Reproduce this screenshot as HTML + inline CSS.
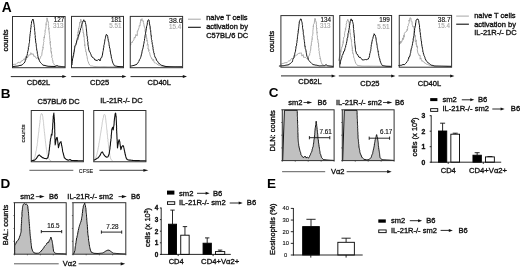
<!DOCTYPE html>
<html><head><meta charset="utf-8"><title>Figure</title>
<style>
html,body{margin:0;padding:0;background:#fff;}
body{width:520px;height:267px;overflow:hidden;}
svg{display:block;font-family:"Liberation Sans",sans-serif;filter:blur(0.35px);}
text{stroke-width:0.34px;}
</style></head><body>
<svg width="520" height="267" viewBox="0 0 520 267">
<rect x="0" y="0" width="520" height="267" fill="#fff"/>
<text x="1.7" y="11.6" font-size="13.8" text-anchor="start" font-weight="bold" fill="#000" stroke="#000" style="stroke-width:0">A</text>
<polyline points="13.00,64.50 13.99,64.39 14.94,64.23 16.07,64.26 16.91,63.41 17.95,62.53 19.14,62.18 19.86,63.13 20.70,62.36 21.24,60.97 21.98,60.82 23.08,60.37 24.14,58.72 24.94,59.94 25.07,58.43 25.79,56.36 27.39,58.01 28.48,55.69 29.03,54.57 29.75,55.05 30.70,54.54 30.84,52.71 31.73,54.40 33.18,53.79 33.52,55.01 33.80,56.32 34.93,56.15 35.53,57.13 36.27,58.43 38.18,57.73 38.96,59.78 39.86,58.80 40.57,57.48 40.78,56.26 41.31,55.90 41.85,55.45 41.82,54.86 41.96,52.98 42.29,51.31 42.23,51.17 42.47,49.70 42.60,49.97 42.93,49.74 43.01,47.41 43.13,48.02 42.98,46.39 43.32,45.21 43.42,44.08 43.60,43.58 43.50,42.44 44.08,41.40 43.66,40.42 44.06,38.55 43.92,37.74 44.24,36.95 44.38,38.06 44.46,35.90 44.58,35.08 44.96,34.67 44.80,33.69 45.20,32.65 44.93,30.59 45.30,30.74 45.36,29.87 45.41,29.37 45.80,28.40 45.86,26.62 45.99,26.35 46.12,23.88 46.27,24.61 46.12,24.07 46.27,22.31 46.96,21.10 46.87,19.13 47.02,17.83 47.30,19.19 48.09,22.08 48.34,21.92 48.30,23.38 48.47,23.69 48.33,24.93 48.62,25.42 48.47,26.96 48.94,27.85 48.89,29.39 48.85,28.48 48.72,29.45 49.04,30.77 49.23,32.86 49.35,32.70 49.33,34.15 49.38,34.52 49.63,35.64 49.57,36.89 49.69,37.81 49.93,39.24 49.85,40.43 50.27,41.34 50.23,42.73 50.40,41.53 50.02,44.24 50.30,44.00 50.56,45.89 50.42,45.77 50.47,46.44 51.05,48.80 51.04,48.42 50.82,51.04 51.10,51.07 51.49,52.91 51.24,51.61 51.59,54.44 51.86,54.60 52.08,56.06 51.69,55.97 51.83,57.71 52.43,58.33 52.42,58.86 52.33,59.35 52.96,61.08 52.93,62.53 53.40,63.21 53.68,63.46 53.97,64.55 55.04,65.08 56.01,66.05 56.97,66.14 57.91,66.11 58.83,66.33 59.78,66.36 60.72,66.40 61.68,66.50 62.61,66.60 63.56,66.71 64.50,66.80" fill="none" stroke="#a6a6a6" stroke-width="0.95" stroke-linejoin="round" stroke-linecap="round"/>
<polyline points="13.00,66.50 14.00,66.43 15.01,66.32 16.00,66.17 17.01,66.15 17.99,66.01 19.02,65.73 19.99,65.42 21.00,65.36 21.99,64.92 22.73,64.41 23.52,63.46 24.25,62.94 25.01,61.69 25.20,60.74 25.62,59.98 25.91,59.19 26.03,58.17 26.49,57.14 26.63,57.29 26.85,55.69 27.11,55.26 27.38,53.73 27.48,53.37 27.71,51.92 27.81,51.48 28.13,50.10 28.22,50.02 28.36,49.26 28.38,47.56 28.67,46.96 28.98,45.84 28.88,45.41 28.96,44.53 29.16,43.32 29.46,42.49 29.51,41.32 29.59,39.82 29.63,38.97 29.62,38.30 29.74,37.87 29.84,36.35 30.01,35.91 30.04,34.24 30.29,33.52 30.25,32.34 30.51,32.20 30.54,30.65 30.63,29.73 30.72,29.14 30.82,28.00 31.02,27.22 31.14,27.01 31.05,25.57 31.34,24.35 31.50,23.70 31.44,23.40 31.54,21.84 32.08,20.71 32.91,19.03 33.27,20.05 33.57,20.98 33.68,21.96 33.81,23.02 34.04,24.35 34.20,24.80 34.31,25.75 34.17,26.87 34.46,27.29 34.59,27.98 34.61,28.83 34.60,30.45 34.75,31.35 34.75,31.99 34.95,32.54 34.96,34.46 35.07,35.36 35.29,35.57 35.18,37.31 35.35,38.18 35.44,39.00 35.55,40.19 35.57,40.18 35.68,41.03 35.76,42.78 35.92,42.87 36.18,43.84 36.25,44.61 36.19,45.95 36.41,46.74 36.47,47.70 36.66,48.77 36.74,50.04 37.01,50.83 37.18,51.36 37.25,52.00 37.29,53.22 37.66,54.49 37.66,55.18 38.00,56.59 38.02,57.15 38.46,58.17 38.81,59.22 39.26,60.26 39.61,61.13 39.95,61.90 40.72,62.75 41.46,63.49 42.21,64.41 43.00,65.11 44.02,65.36 44.99,65.45 46.01,65.86 46.99,65.99 48.00,66.26 48.99,66.29 50.00,66.32 51.00,66.40 52.00,66.43 53.00,66.42 54.00,66.47 55.00,66.53 56.01,66.07 56.98,65.60 58.50,66.27 59.50,66.36 60.50,66.44 61.50,66.56 62.50,66.62 63.50,66.73 64.50,66.80" fill="none" stroke="#111111" stroke-width="1.0" stroke-linejoin="round" stroke-linecap="round"/>
<rect x="12.5" y="16.5" width="52.60" height="51.20" fill="none" stroke="#303030" stroke-width="1.0"/>
<polyline points="72.00,61.00 72.28,59.91 72.48,59.96 72.80,58.02 73.01,56.27 73.38,56.30 73.32,54.07 73.82,53.06 73.59,53.44 74.34,53.11 74.35,51.35 74.22,49.21 74.50,49.07 74.85,47.29 75.23,45.92 75.70,45.86 75.83,45.04 76.09,44.00 76.04,43.01 76.62,43.37 76.62,42.12 76.51,40.02 76.59,39.07 76.94,39.28 77.10,38.57 77.53,37.94 77.33,34.85 77.65,36.05 77.77,35.33 78.07,32.35 78.03,33.09 78.24,30.61 78.65,31.73 78.52,28.90 78.58,27.97 78.81,28.68 79.14,27.14 79.47,25.29 79.58,24.15 79.62,23.12 79.70,22.34 80.17,23.08 80.62,20.45 80.74,19.13 81.38,21.72 82.08,21.08 81.81,22.34 82.00,24.63 82.00,24.53 82.45,25.06 82.61,26.41 82.67,27.70 82.84,30.06 83.21,30.17 82.92,30.19 83.41,32.79 83.17,32.19 83.71,34.24 83.84,33.92 83.75,36.42 83.58,36.28 84.19,36.32 84.16,37.71 84.34,38.67 84.15,40.38 84.51,40.33 84.34,41.01 84.83,43.05 84.62,44.10 84.70,45.71 84.87,44.55 84.87,46.46 85.17,46.76 85.16,48.58 85.72,49.02 85.72,51.36 85.80,51.61 85.61,51.26 86.24,51.89 86.48,54.46 86.51,53.90 86.78,55.96 87.14,56.58 87.10,57.02 87.51,59.54 87.60,60.47 88.05,61.50 88.32,61.79 88.73,63.45 89.06,63.93 89.76,65.11 90.49,65.84 91.41,65.96 92.31,65.98 93.22,66.32 94.10,66.40 95.00,66.53 95.91,66.50 96.81,66.47 97.71,66.48 98.61,66.54 99.52,66.57 100.43,66.57 101.31,66.54 102.23,66.56 103.12,66.56 104.04,66.63 104.94,66.60 105.84,66.60 106.74,66.60 107.65,66.66 108.55,66.67 109.45,66.66 110.35,66.64 111.26,66.70 112.17,66.70 113.06,66.68 113.96,66.70 114.87,66.70 115.77,66.73 116.68,66.72 117.58,66.76 118.48,66.73 119.38,66.78 120.29,66.78 121.20,66.77 122.09,66.78 123.00,66.80" fill="none" stroke="#a6a6a6" stroke-width="0.95" stroke-linejoin="round" stroke-linecap="round"/>
<polyline points="72.00,64.60 72.12,63.52 72.20,62.84 72.36,61.62 72.40,61.20 72.43,60.01 72.66,58.41 72.77,58.10 73.02,57.35 73.16,55.68 73.57,55.60 73.68,54.55 73.75,52.64 73.83,52.30 74.06,51.94 74.35,50.09 74.53,49.15 74.57,48.64 74.70,47.61 74.71,46.52 74.92,46.44 75.29,45.34 75.87,44.56 76.20,43.31 76.57,42.10 76.87,40.55 77.16,40.39 77.74,39.51 77.96,37.89 78.27,36.94 78.57,36.59 78.78,34.43 79.35,34.26 79.50,33.00 79.87,32.06 80.13,30.67 80.44,30.07 80.60,28.62 81.13,27.82 81.28,26.82 81.38,25.77 81.84,24.48 81.96,24.33 82.30,23.22 82.64,22.48 83.08,20.99 83.39,20.75 83.80,19.76 83.99,20.05 84.23,21.55 84.69,21.48 85.29,21.33 85.31,22.40 85.52,22.71 85.62,23.90 85.81,24.48 86.15,26.48 86.09,27.20 86.34,27.50 86.37,28.73 86.31,29.03 86.59,30.91 86.63,31.86 86.72,32.21 86.74,33.62 86.83,34.14 86.85,35.32 87.24,36.12 87.23,36.23 87.41,37.87 87.33,38.70 87.64,39.39 87.49,40.89 87.58,40.81 87.78,41.63 88.01,42.67 87.89,44.19 88.09,45.05 88.20,45.99 88.33,46.60 88.63,47.85 88.58,49.06 88.97,50.25 89.09,51.33 89.49,51.41 90.08,52.48 90.56,53.61 91.06,54.70 91.36,55.78 91.94,56.87 93.44,57.98 94.26,58.50 94.89,60.00 96.00,60.10 97.11,60.73 97.80,59.80 98.52,59.53 99.33,59.55 99.97,60.96 100.64,59.30 100.87,58.03 101.59,57.24 101.98,57.31 102.06,56.15 102.38,55.17 102.57,54.02 102.72,52.88 102.98,51.46 103.20,50.70 103.35,50.38 103.35,48.95 103.57,47.86 103.85,47.16 103.85,45.50 104.07,44.99 104.25,44.47 104.41,43.15 104.61,42.20 104.72,41.24 104.96,39.69 105.03,38.86 105.42,38.47 105.41,37.75 105.78,36.02 106.01,35.19 106.27,34.46 107.08,34.96 107.49,36.29 107.84,36.53 107.81,38.24 108.14,38.80 108.23,40.22 108.45,41.54 108.75,41.61 108.85,42.38 108.98,43.34 109.06,44.33 109.24,46.03 109.44,46.32 109.45,47.04 109.63,48.06 109.99,48.73 110.09,49.44 110.23,51.41 110.33,51.20 110.53,52.11 110.59,53.80 110.85,53.85 110.94,54.85 111.29,56.17 111.22,56.96 111.60,58.35 111.62,58.95 111.97,59.50 112.19,60.80 112.57,61.90 112.81,62.86 113.01,63.25 113.54,64.10 114.02,65.10 114.48,65.75 115.67,66.07 116.83,66.28 118.00,66.52 119.00,66.55 120.00,66.61 121.00,66.69 122.00,66.73 123.00,66.80" fill="none" stroke="#111111" stroke-width="1.0" stroke-linejoin="round" stroke-linecap="round"/>
<rect x="71.5" y="16.4" width="52.00" height="51.30" fill="none" stroke="#303030" stroke-width="1.0"/>
<polyline points="130.70,45.00 131.03,43.91 130.80,43.57 131.49,42.34 132.16,42.23 132.29,42.65 132.64,41.20 133.25,40.79 133.88,39.85 134.04,38.50 134.16,37.55 134.92,37.45 134.92,38.16 136.02,34.51 135.65,35.03 137.38,35.66 137.27,31.68 137.51,30.76 137.71,31.41 137.95,30.67 138.94,27.88 138.93,27.66 139.23,27.33 139.10,25.61 140.15,25.77 140.14,25.62 140.15,22.51 140.68,22.65 140.57,19.69 141.16,19.69 141.50,20.35 142.01,18.60 141.98,20.86 142.14,21.06 143.23,20.62 143.24,20.65 143.57,21.91 143.41,22.43 143.92,24.47 143.97,24.48 144.06,26.01 144.89,27.92 145.14,28.94 145.36,28.87 144.94,30.54 145.75,32.84 145.40,31.32 145.67,34.92 145.58,34.12 146.27,34.44 146.76,38.64 146.10,38.01 146.91,38.40 146.95,41.13 147.02,40.08 147.27,41.92 147.71,42.19 147.21,45.34 147.98,44.29 148.21,45.25 148.17,47.05 147.96,48.70 148.19,48.27 148.76,50.62 149.13,49.75 148.78,51.73 149.78,52.78 149.86,54.20 150.52,56.43 150.43,56.89 151.34,57.30 151.57,58.98 151.89,58.49 152.71,60.54 153.47,59.39 154.17,62.43 154.87,62.97 155.46,62.89 155.85,63.33 156.94,63.87 158.05,65.02 159.02,65.10 160.00,65.32 160.99,66.08 161.99,66.04 163.01,66.20 163.98,66.30 165.01,66.47 165.95,66.56 166.88,66.60 167.83,66.48 168.77,66.56 169.72,66.61 170.66,66.57 171.60,66.67 172.55,66.62 173.50,66.62 174.45,66.64 175.39,66.68 176.33,66.67 177.28,66.72 178.22,66.72 179.17,66.77 180.11,66.75 181.05,66.80 182.00,66.80" fill="none" stroke="#a6a6a6" stroke-width="0.95" stroke-linejoin="round" stroke-linecap="round"/>
<polyline points="130.70,66.00 131.79,65.91 132.92,65.58 133.98,65.43 134.99,65.04 135.98,64.64 136.98,64.20 137.56,63.31 138.07,62.62 138.41,61.91 139.02,61.34 139.32,59.80 139.82,59.41 140.28,58.53 140.62,57.55 141.03,56.24 141.36,54.82 141.53,54.00 141.71,53.88 141.99,52.02 142.02,51.76 142.34,50.13 142.68,49.22 142.78,48.90 143.05,47.89 143.11,47.58 143.36,46.02 143.53,45.01 143.65,44.39 143.84,43.62 144.15,42.01 144.15,41.41 144.46,40.55 144.50,40.29 144.55,38.71 144.73,38.39 144.95,37.06 145.09,35.88 145.13,34.81 145.50,34.32 145.46,33.54 145.55,32.69 145.92,31.44 145.94,31.14 146.09,30.14 146.25,28.85 146.44,28.50 146.57,26.97 146.67,26.17 147.03,25.34 147.28,24.13 147.37,22.42 147.54,22.16 147.86,20.61 148.43,19.72 149.04,20.10 149.19,21.32 149.36,22.10 149.47,23.83 149.58,24.06 149.75,25.24 150.04,26.04 150.20,27.68 150.20,27.56 150.23,29.47 150.50,29.64 150.69,30.78 150.72,32.11 150.77,32.47 150.83,33.41 150.97,34.81 151.24,36.01 151.31,35.93 151.29,37.51 151.40,38.29 151.51,39.55 151.91,40.31 151.80,41.49 151.89,42.04 152.26,42.71 152.15,44.18 152.49,44.56 152.69,45.21 152.77,46.97 153.00,47.23 152.96,48.32 153.10,48.93 153.35,50.51 153.60,51.24 153.66,52.57 154.11,52.89 154.22,54.31 154.41,55.19 154.62,55.59 154.92,56.86 155.64,58.02 156.02,58.59 156.53,60.38 157.06,61.02 157.75,61.47 158.38,62.79 158.95,63.67 159.72,63.81 160.54,64.50 161.24,65.12 162.01,65.53 163.02,65.72 164.01,66.06 165.01,66.29 166.00,66.51 166.94,66.51 167.89,66.51 168.82,66.54 169.76,66.56 170.70,66.59 171.65,66.59 172.59,66.62 173.53,66.65 174.47,66.66 175.41,66.69 176.36,66.68 177.29,66.71 178.23,66.72 179.17,66.74 180.12,66.76 181.06,66.79 182.00,66.80" fill="none" stroke="#111111" stroke-width="1.0" stroke-linejoin="round" stroke-linecap="round"/>
<rect x="130.25" y="16.4" width="52.35" height="51.30" fill="none" stroke="#303030" stroke-width="1.0"/>
<polyline points="280.90,64.05 281.86,63.91 282.93,63.36 283.85,63.32 284.94,62.70 285.89,62.65 287.05,62.66 287.77,61.73 288.69,60.90 289.40,60.88 289.97,60.91 290.69,59.62 292.06,58.05 292.72,58.78 293.33,57.87 294.13,57.37 295.40,55.66 296.34,55.11 296.76,55.42 297.75,53.78 298.56,53.47 299.04,52.84 299.91,53.69 300.98,52.63 301.61,54.23 301.91,56.08 303.15,54.56 303.64,57.47 304.65,57.32 305.76,57.48 307.00,58.75 308.08,58.97 308.35,57.58 308.74,55.92 309.36,55.25 309.64,55.21 309.66,53.80 309.83,53.17 310.15,52.68 310.16,51.55 310.53,50.26 310.58,50.38 310.84,48.03 310.80,46.67 311.05,45.55 311.07,45.14 311.32,45.44 311.33,42.79 311.66,41.80 311.79,42.00 311.89,40.55 312.03,39.33 311.69,38.99 312.25,39.27 312.21,36.69 312.08,36.42 312.67,35.38 312.66,34.35 312.79,34.30 312.98,33.04 312.85,31.49 312.75,30.81 313.24,29.99 313.02,29.26 313.31,27.57 313.27,26.34 313.33,26.87 313.47,24.51 313.51,24.51 313.94,23.98 314.30,23.11 314.39,21.98 314.68,19.98 314.70,18.58 315.16,18.81 315.40,18.58 315.61,20.71 315.89,21.89 316.14,21.71 316.40,22.93 316.24,24.15 316.64,26.02 316.31,26.84 316.39,26.63 316.69,28.65 317.04,28.08 316.62,28.97 316.94,31.80 317.10,32.63 317.13,31.91 316.95,34.28 317.23,35.25 317.30,35.58 317.49,37.15 317.35,37.31 317.51,38.87 317.52,39.52 317.97,39.32 318.06,40.65 318.02,42.52 318.14,43.09 318.50,42.90 318.61,44.95 318.57,46.14 318.67,45.86 318.57,47.53 318.62,47.73 318.99,48.56 318.82,50.29 319.39,51.52 319.07,53.26 319.51,53.46 319.51,54.05 319.63,54.93 319.67,55.67 320.19,57.27 320.05,58.81 320.13,58.05 320.48,58.61 320.70,59.85 321.07,61.87 321.38,62.40 321.67,63.25 321.85,64.12 322.95,64.61 323.90,65.46 324.86,65.72 325.77,65.77 326.73,65.74 327.67,65.85 328.63,65.97 329.57,66.11 330.52,66.19 331.46,66.25 332.40,66.35" fill="none" stroke="#a6a6a6" stroke-width="0.95" stroke-linejoin="round" stroke-linecap="round"/>
<polyline points="279.32,66.05 280.22,65.96 281.11,65.85 282.02,65.84 282.91,65.68 283.81,65.67 284.73,65.49 285.80,65.24 286.87,65.07 287.94,64.91 289.01,64.58 289.81,63.98 290.70,63.06 291.40,62.53 292.34,61.82 292.64,60.54 292.81,59.57 293.15,58.61 293.50,58.51 293.94,57.85 294.11,56.06 294.46,55.03 294.64,54.76 294.83,53.22 295.08,52.33 295.04,51.84 295.47,51.54 295.64,49.85 295.71,48.88 295.96,48.30 295.92,46.78 296.20,45.96 296.48,45.82 296.67,44.08 296.57,43.25 296.95,42.67 296.93,42.25 296.97,41.19 297.31,39.50 297.19,39.18 297.49,37.85 297.43,36.59 297.56,36.56 297.73,35.17 297.81,34.31 298.07,33.11 298.23,32.79 298.11,31.00 298.27,31.06 298.37,30.08 298.59,28.70 298.66,27.83 298.86,26.45 298.79,26.24 299.01,25.16 298.94,24.80 299.21,23.88 299.26,21.91 299.29,21.82 300.07,20.16 300.56,18.94 301.25,19.17 301.42,20.25 301.78,21.63 302.11,22.75 302.18,23.20 302.31,24.30 302.23,24.85 302.61,25.68 302.53,27.67 302.63,28.29 302.79,29.05 303.06,29.93 303.18,31.23 303.15,32.10 303.37,32.27 303.28,33.72 303.37,34.35 303.76,35.75 303.79,35.76 303.99,37.76 303.88,38.49 304.07,39.22 304.20,40.18 304.39,40.67 304.37,41.49 304.68,43.03 304.60,43.36 304.73,44.66 304.91,46.22 305.09,46.03 305.19,47.60 305.27,48.54 305.61,48.94 305.75,49.69 306.02,50.84 306.16,52.08 306.31,52.71 306.49,53.81 306.68,54.88 306.84,55.96 306.91,56.22 307.30,56.87 307.92,57.72 308.21,59.21 308.61,60.21 309.12,60.63 309.47,61.33 310.25,62.02 310.94,62.57 311.70,63.45 312.40,64.11 313.12,64.57 314.18,64.73 315.17,65.07 316.20,65.13 317.20,65.36 318.23,65.59 319.24,65.87 320.27,65.85 321.31,65.80 322.34,65.79 323.37,65.75 324.39,65.78 325.24,65.15 326.08,64.51 326.80,65.20 327.51,65.71 328.39,65.85 329.29,65.96 330.20,66.05 331.10,66.15 332.00,66.25 332.90,66.35" fill="none" stroke="#111111" stroke-width="1.0" stroke-linejoin="round" stroke-linecap="round"/>
<rect x="280.9" y="15.6" width="52.40" height="51.60" fill="none" stroke="#303030" stroke-width="1.0"/>
<polyline points="338.80,60.55 338.86,58.60 339.40,58.31 339.33,56.72 339.95,55.93 340.15,54.74 340.02,54.92 340.41,53.63 340.94,52.35 340.60,50.61 341.03,51.56 341.20,48.86 341.81,48.24 341.64,46.88 342.08,46.75 342.49,46.59 342.38,44.22 343.08,44.32 343.10,41.58 343.22,42.62 343.47,40.24 343.29,40.52 343.47,39.43 343.71,37.16 343.91,36.95 344.33,36.78 344.57,36.61 344.63,35.80 344.45,33.33 344.83,33.17 344.73,32.40 345.38,30.40 345.41,30.45 345.41,28.40 345.72,29.38 345.63,28.68 346.14,26.45 346.30,25.42 346.08,24.69 346.74,22.63 346.46,21.67 346.92,21.17 347.19,21.26 347.77,19.35 348.03,19.94 348.68,21.81 348.53,21.49 349.03,22.72 349.32,24.99 349.06,26.17 349.63,27.16 349.22,27.20 349.52,28.26 349.54,28.81 350.13,29.61 350.10,30.36 349.97,31.64 350.15,33.98 350.35,33.44 350.51,35.54 350.55,36.84 350.85,36.99 350.96,37.77 350.74,38.70 351.23,38.84 351.44,41.19 351.35,41.99 351.63,41.70 351.51,42.51 351.61,43.47 351.76,44.77 351.95,46.62 352.21,46.46 352.36,48.51 352.37,47.81 352.29,50.71 352.73,50.03 352.62,51.32 352.73,53.28 352.85,52.86 353.34,54.19 353.60,55.25 353.51,55.55 353.86,57.84 354.33,58.55 354.14,59.11 354.67,59.77 355.04,61.27 355.29,62.01 355.85,63.45 356.61,64.34 357.29,65.37 358.18,65.56 359.12,65.65 359.99,65.78 360.90,65.86 361.80,66.02 362.71,66.06 363.61,66.08 364.51,66.11 365.42,66.08 366.31,66.10 367.22,66.10 368.13,66.10 369.03,66.10 369.93,66.15 370.84,66.18 371.73,66.13 372.65,66.17 373.54,66.16 374.44,66.18 375.35,66.19 376.25,66.20 377.16,66.20 378.06,66.22 378.96,66.23 379.87,66.26 380.77,66.26 381.67,66.25 382.57,66.28 383.48,66.28 384.38,66.29 385.29,66.30 386.19,66.31 387.09,66.32 387.99,66.33 388.90,66.34 389.80,66.35" fill="none" stroke="#a6a6a6" stroke-width="0.95" stroke-linejoin="round" stroke-linecap="round"/>
<polyline points="340.20,64.00 340.30,62.94 340.53,61.78 340.64,61.06 340.87,60.05 341.22,59.26 341.55,58.34 341.82,57.41 342.06,55.59 342.40,55.27 343.04,53.94 343.59,51.97 344.06,51.04 344.31,51.11 344.74,50.05 345.00,48.40 345.35,47.47 345.64,47.23 345.70,45.46 346.03,45.14 346.37,43.62 346.44,43.42 346.75,41.58 346.95,40.89 347.07,39.99 347.19,38.43 347.57,37.95 347.74,36.91 347.95,36.05 347.95,35.19 348.04,33.57 348.44,32.45 348.58,32.45 348.71,30.53 348.95,29.55 349.07,29.19 349.14,28.13 349.47,27.42 349.48,25.69 349.71,25.28 349.81,23.89 349.91,23.56 350.20,21.65 350.42,20.73 350.78,19.79 351.12,18.86 351.47,20.30 351.70,20.66 352.40,19.94 352.51,21.60 352.80,21.98 352.87,22.79 353.11,23.77 353.35,24.54 353.36,26.12 353.40,27.06 353.62,28.56 353.46,29.39 353.83,30.11 353.80,31.17 353.80,32.18 354.09,33.27 354.08,33.40 354.10,34.93 354.34,35.95 354.23,37.12 354.47,37.13 354.54,38.59 354.44,39.81 354.52,40.38 354.71,41.54 354.73,41.78 354.72,43.11 354.88,43.56 354.98,44.38 355.16,46.36 355.25,46.24 355.31,47.98 355.41,48.10 355.51,49.25 355.47,50.34 355.71,51.11 356.16,52.17 356.39,53.52 357.01,54.44 357.60,54.43 358.11,55.73 359.07,57.32 360.41,57.36 361.28,58.53 362.00,59.69 362.90,59.92 363.63,59.91 364.66,59.68 365.59,59.52 366.30,59.64 366.97,59.84 367.69,58.90 368.25,59.09 368.71,58.05 369.18,57.35 369.46,55.84 369.60,55.44 369.78,53.59 370.04,53.41 370.24,52.48 370.35,51.40 370.73,50.48 370.79,49.45 371.00,48.48 370.95,47.56 371.24,46.42 371.20,44.82 371.49,44.48 371.82,43.04 371.83,41.98 372.11,41.22 372.36,39.73 372.42,39.48 372.92,38.38 373.09,37.03 373.45,36.20 373.97,34.70 374.08,33.72 374.90,35.16 375.27,35.27 375.54,36.47 375.68,36.75 375.93,37.93 376.10,39.06 376.18,40.02 376.21,40.45 376.41,41.66 376.58,42.41 376.77,43.21 377.01,45.16 377.19,45.65 377.24,46.67 377.22,47.25 377.62,48.67 377.71,49.47 377.94,50.38 378.05,51.46 378.27,51.20 378.29,52.75 378.40,53.47 378.67,53.89 378.68,55.47 379.09,56.73 379.14,57.55 379.29,57.86 379.73,58.86 379.99,60.40 380.20,61.02 380.47,62.12 380.86,62.84 381.28,63.75 381.77,64.66 382.29,65.50 383.21,65.71 384.15,65.87 385.08,66.04 386.00,66.21 387.00,66.25 388.00,66.28 389.00,66.32 390.00,66.35 391.00,66.35" fill="none" stroke="#111111" stroke-width="1.0" stroke-linejoin="round" stroke-linecap="round"/>
<rect x="339.75" y="15.5" width="51.85" height="51.70" fill="none" stroke="#303030" stroke-width="1.0"/>
<polyline points="399.50,44.55 399.46,42.11 400.24,41.88 400.59,43.54 400.71,41.19 401.02,42.72 401.62,42.06 401.68,41.11 402.02,41.42 402.76,37.88 403.09,39.72 403.55,39.09 403.81,35.13 404.14,37.17 404.39,33.39 405.41,32.02 405.85,32.05 406.83,30.90 407.07,29.42 407.19,30.36 407.70,28.81 407.57,27.85 407.83,25.97 408.71,25.21 408.18,24.30 409.07,23.47 409.24,22.36 408.96,20.16 409.22,21.10 409.85,19.03 409.91,17.81 410.92,18.07 411.15,21.29 411.39,21.52 411.90,21.78 412.01,21.64 412.09,21.62 412.14,24.31 412.61,25.74 413.07,25.90 412.74,27.05 412.88,26.69 413.93,26.94 414.20,29.87 413.84,31.50 414.56,33.14 414.05,32.40 414.32,32.93 414.45,34.09 415.37,36.28 415.37,35.57 415.29,37.84 415.36,39.93 415.24,40.64 415.53,42.13 416.29,39.86 416.28,43.30 416.20,44.45 416.31,43.24 417.04,47.09 416.75,45.63 417.34,47.38 417.48,46.87 417.44,48.71 417.25,49.29 417.80,52.85 418.49,54.15 418.19,54.41 419.34,54.85 418.93,55.56 420.21,55.48 420.08,59.17 420.98,57.95 421.23,59.41 422.21,61.48 422.53,60.75 423.59,61.74 423.96,61.84 424.95,63.36 425.79,63.46 426.80,64.28 427.76,64.34 428.76,64.93 429.79,65.41 430.82,65.59 431.83,65.76 432.79,65.98 433.80,66.01 434.75,66.06 435.69,66.04 436.63,66.13 437.59,66.09 438.53,66.11 439.46,66.17 440.40,66.16 441.35,66.20 442.31,66.17 443.25,66.23 444.18,66.24 445.13,66.27 446.08,66.27 447.02,66.28 447.97,66.31 448.91,66.32 449.86,66.34 450.80,66.35" fill="none" stroke="#a6a6a6" stroke-width="0.95" stroke-linejoin="round" stroke-linecap="round"/>
<polyline points="398.80,65.55 399.78,65.44 400.79,65.25 401.81,65.19 402.97,64.47 404.27,64.73 405.05,64.06 405.77,63.35 406.31,62.88 406.81,61.87 407.21,61.53 407.84,60.82 408.11,59.39 408.55,59.08 408.88,57.06 409.43,56.97 409.87,55.92 410.16,54.70 410.26,53.63 410.50,53.28 410.71,52.43 410.77,51.35 411.07,49.89 411.28,48.82 411.51,47.96 411.76,47.71 411.88,46.48 412.26,45.44 412.33,44.98 412.54,43.49 412.60,42.56 412.84,42.64 413.02,41.20 413.22,40.63 413.16,38.97 413.40,38.16 413.77,37.12 413.74,37.00 413.89,35.83 414.02,35.23 414.08,33.54 414.20,32.99 414.51,32.11 414.42,30.97 414.63,30.78 414.61,28.79 414.90,27.90 414.96,27.81 415.06,26.03 415.28,26.15 415.54,25.12 415.67,22.96 415.78,22.77 415.98,21.27 416.08,20.08 416.59,19.64 416.73,19.30 418.00,19.05 418.56,20.55 418.84,20.81 418.81,22.13 419.03,23.25 419.14,24.22 419.19,24.23 419.48,25.20 419.57,27.17 419.45,27.43 419.82,29.06 419.80,29.05 419.99,29.96 419.92,31.72 420.16,32.29 420.37,32.96 420.29,34.07 420.56,35.14 420.55,35.65 420.77,37.53 420.84,37.78 420.87,38.33 421.10,39.51 421.10,40.30 421.34,41.04 421.57,42.12 421.47,43.78 421.80,43.94 421.79,44.81 422.07,46.57 422.29,46.92 422.26,48.22 422.48,48.27 422.64,49.56 422.85,50.82 422.93,52.13 423.25,52.43 423.47,53.98 423.78,54.18 423.98,55.46 424.43,56.25 424.91,57.48 425.17,58.61 425.89,60.06 426.39,60.96 426.90,61.64 427.59,62.21 428.25,63.00 429.10,63.50 429.82,63.97 430.54,64.54 431.32,65.14 432.18,65.31 433.04,65.51 433.93,65.84 434.80,66.05 435.74,66.05 436.69,66.09 437.63,66.09 438.56,66.11 439.51,66.14 440.44,66.15 441.39,66.18 442.33,66.19 443.27,66.21 444.21,66.23 445.15,66.24 446.09,66.26 447.03,66.28 447.98,66.30 448.92,66.31 449.86,66.33 450.80,66.35" fill="none" stroke="#111111" stroke-width="1.0" stroke-linejoin="round" stroke-linecap="round"/>
<rect x="399.25" y="15.4" width="52.35" height="51.80" fill="none" stroke="#303030" stroke-width="1.0"/>
<text x="64.2" y="22.0" font-size="6.3" text-anchor="end" font-weight="normal" fill="#111111" stroke="#111111" style="stroke-width:0.14px">127</text>
<text x="63.6" y="28.3" font-size="6.3" text-anchor="end" font-weight="normal" fill="#a8a8a8" stroke="#a8a8a8" style="stroke-width:0.14px">313</text>
<text x="121.5" y="22.0" font-size="6.3" text-anchor="end" font-weight="normal" fill="#111111" stroke="#111111" style="stroke-width:0.14px">181</text>
<text x="121.5" y="28.4" font-size="6.3" text-anchor="end" font-weight="normal" fill="#a8a8a8" stroke="#a8a8a8" style="stroke-width:0.14px">5.51</text>
<text x="182.5" y="22.5" font-size="6.9" text-anchor="end" font-weight="normal" fill="#111111" stroke="#111111" style="stroke-width:0.14px">38.6</text>
<text x="181.2" y="28.7" font-size="6.3" text-anchor="end" font-weight="normal" fill="#a8a8a8" stroke="#a8a8a8" style="stroke-width:0.14px">15.4</text>
<text x="330.9" y="21.7" font-size="6.3" text-anchor="end" font-weight="normal" fill="#111111" stroke="#111111" style="stroke-width:0.14px">134</text>
<text x="330.6" y="28.3" font-size="6.3" text-anchor="end" font-weight="normal" fill="#a8a8a8" stroke="#a8a8a8" style="stroke-width:0.14px">313</text>
<text x="389.9" y="22.3" font-size="6.4" text-anchor="end" font-weight="normal" fill="#111111" stroke="#111111" style="stroke-width:0.14px">199</text>
<text x="389.6" y="28.6" font-size="6.3" text-anchor="end" font-weight="normal" fill="#a8a8a8" stroke="#a8a8a8" style="stroke-width:0.14px">5.51</text>
<text x="450.5" y="22.0" font-size="6.5" text-anchor="end" font-weight="normal" fill="#111111" stroke="#111111" style="stroke-width:0.14px">38.7</text>
<text x="449.9" y="28.1" font-size="6.3" text-anchor="end" font-weight="normal" fill="#a8a8a8" stroke="#a8a8a8" style="stroke-width:0.14px">15.4</text>
<line x1="10.8" y1="76.6" x2="63.3" y2="76.6" stroke="#111111" stroke-width="0.9"/>
<polygon points="66.5,76.6 62.3,75.1 62.3,78.1" fill="#111111"/>
<line x1="71.2" y1="76.6" x2="123.2" y2="76.6" stroke="#111111" stroke-width="0.9"/>
<polygon points="126.4,76.6 122.2,75.1 122.2,78.1" fill="#111111"/>
<line x1="130.5" y1="76.6" x2="183.8" y2="76.6" stroke="#111111" stroke-width="0.9"/>
<polygon points="187.0,76.6 182.8,75.1 182.8,78.1" fill="#111111"/>
<text x="38.5" y="84.7" font-size="7.5" text-anchor="middle" font-weight="normal" fill="#111111" stroke="#111111">CD62L</text>
<text x="99.6" y="84.8" font-size="7.5" text-anchor="middle" font-weight="normal" fill="#111111" stroke="#111111">CD25</text>
<text x="159.3" y="85.0" font-size="7.5" text-anchor="middle" font-weight="normal" fill="#111111" stroke="#111111">CD40L</text>
<line x1="281" y1="75.9" x2="332.6" y2="75.9" stroke="#111111" stroke-width="0.9"/>
<polygon points="335.8,75.9 331.6,74.4 331.6,77.4" fill="#111111"/>
<line x1="338.8" y1="75.9" x2="392.2" y2="75.9" stroke="#111111" stroke-width="0.9"/>
<polygon points="395.4,75.9 391.2,74.4 391.2,77.4" fill="#111111"/>
<line x1="398.5" y1="75.9" x2="451.2" y2="75.9" stroke="#111111" stroke-width="0.9"/>
<polygon points="454.4,75.9 450.2,74.4 450.2,77.4" fill="#111111"/>
<text x="310" y="83.6" font-size="7.5" text-anchor="middle" font-weight="normal" fill="#111111" stroke="#111111">CD62L</text>
<text x="369.9" y="85.7" font-size="7.5" text-anchor="middle" font-weight="normal" fill="#111111" stroke="#111111">CD25</text>
<text x="429.4" y="85.7" font-size="7.5" text-anchor="middle" font-weight="normal" fill="#111111" stroke="#111111">CD40L</text>
<text x="7.5" y="40.5" font-size="7.5" text-anchor="middle" font-weight="normal" fill="#111111" stroke="#111111" transform="rotate(-90 7.5 40.5)">counts</text>
<text x="274.4" y="41.6" font-size="7.3" text-anchor="middle" font-weight="normal" fill="#111111" stroke="#111111" transform="rotate(-90 274.4 41.6)">counts</text>
<line x1="188" y1="19.2" x2="200.8" y2="19.2" stroke="#a6a6a6" stroke-width="1.0"/>
<line x1="188" y1="27.3" x2="200.8" y2="27.3" stroke="#111111" stroke-width="1.1"/>
<text x="206.2" y="20.4" font-size="7.5" text-anchor="start" font-weight="normal" fill="#111111" stroke="#111111">naive T cells</text>
<text x="206.2" y="29.3" font-size="7.5" text-anchor="start" font-weight="normal" fill="#111111" stroke="#111111">activation by</text>
<text x="206.2" y="38.1" font-size="7.5" text-anchor="start" font-weight="normal" fill="#111111" stroke="#111111">C57BL/6 DC</text>
<line x1="456.2" y1="16.1" x2="468.9" y2="16.1" stroke="#a6a6a6" stroke-width="1.0"/>
<line x1="456.2" y1="24.2" x2="468.9" y2="24.2" stroke="#111111" stroke-width="1.1"/>
<text x="474.2" y="18.1" font-size="7.5" text-anchor="start" font-weight="normal" fill="#111111" stroke="#111111">naive T cells</text>
<text x="474.2" y="26.6" font-size="7.5" text-anchor="start" font-weight="normal" fill="#111111" stroke="#111111">activation by</text>
<text x="474.2" y="35.3" font-size="7.5" text-anchor="start" font-weight="normal" fill="#111111" stroke="#111111">IL-21R-/- DC</text>
<text x="0.7" y="97.5" font-size="13.5" text-anchor="start" font-weight="bold" fill="#000" stroke="#000" style="stroke-width:0">B</text>
<text x="37.5" y="104.1" font-size="7.5" text-anchor="start" font-weight="normal" fill="#111111" stroke="#111111">C57BL/6 DC</text>
<text x="100.2" y="102.6" font-size="7.5" text-anchor="start" font-weight="normal" fill="#111111" stroke="#111111">IL-21R-/- DC</text>
<polyline points="31.90,160.80 33.40,160.01 33.92,159.05 34.43,158.07 34.90,156.82 35.13,156.21 35.27,155.23 35.50,153.98 35.77,153.03 35.91,151.61 36.27,150.82 36.33,150.21 36.45,149.32 36.58,148.26 36.85,146.85 36.84,146.10 37.10,145.80 37.24,144.33 37.31,143.61 37.49,142.43 37.62,141.90 37.61,141.15 37.71,139.81 37.81,138.72 38.03,137.91 38.15,136.75 38.18,136.08 38.32,135.54 38.43,134.21 38.45,133.59 38.55,132.88 38.83,131.77 38.92,130.26 38.99,129.61 38.99,128.39 39.28,127.60 39.34,126.69 39.49,126.34 39.48,124.97 39.67,124.20 39.78,122.96 39.91,122.60 40.03,121.08 40.02,120.22 40.25,119.73 40.36,118.60 40.34,117.85 40.43,116.76 40.53,115.66 40.97,115.22 41.04,113.86 41.41,113.59 42.15,113.92 42.43,115.08 42.52,115.96 42.78,116.64 42.87,117.63 42.96,119.27 43.29,120.19 43.35,121.03 43.37,121.53 43.55,122.49 43.56,123.53 43.73,125.01 43.74,125.92 43.89,126.45 43.90,127.37 43.96,128.23 44.22,129.13 44.24,130.52 44.28,131.08 44.35,131.67 44.57,133.16 44.66,133.76 44.74,135.02 44.85,135.86 44.94,136.56 45.00,137.42 45.14,138.75 45.29,139.30 45.32,140.52 45.41,140.94 45.53,142.07 45.66,143.17 45.76,144.25 45.83,144.94 45.97,146.19 46.12,146.78 46.24,148.10 46.44,149.08 46.51,149.61 46.72,150.23 46.80,151.75 46.99,152.45 47.04,153.38 47.26,154.29 47.39,155.10 47.77,155.96 48.10,156.85 48.39,157.55 48.77,158.59 49.11,159.46 49.99,160.16 50.90,160.80" fill="none" stroke="#b4b4b4" stroke-width="0.7" stroke-linejoin="round" stroke-linecap="round"/>
<polyline points="31.60,160.60 32.54,160.51 33.46,160.40 34.40,160.28 35.41,159.40 36.42,158.47 36.92,157.60 37.39,156.92 37.92,156.02 39.21,154.82 40.37,155.95 41.42,156.78 42.39,157.61 43.42,157.89 44.40,158.57 45.38,158.56 46.39,158.83 47.16,158.27 47.91,157.40 48.15,156.54 48.30,155.91 48.53,154.89 48.78,154.11 48.87,152.63 48.98,152.14 49.05,151.19 49.25,150.48 49.39,148.92 49.41,148.14 49.51,147.33 49.77,146.17 49.70,145.64 49.80,144.79 50.08,143.52 50.06,142.84 50.18,141.73 50.40,140.62 50.38,139.64 50.55,139.20 50.68,138.38 50.98,137.38 51.14,136.14 51.30,134.96 51.40,134.24 52.04,134.98 52.00,133.93 52.12,133.20 52.31,131.99 52.25,130.74 52.45,129.70 52.47,128.89 52.69,127.96 52.64,126.89 52.73,126.49 52.76,125.09 52.75,124.35 52.83,123.36 52.89,122.79 53.08,121.76 53.01,121.07 53.05,119.90 53.14,118.83 53.29,118.23 53.22,116.87 53.35,116.04 53.61,114.74 53.72,113.85 53.89,113.09 53.80,114.45 54.06,114.90 54.04,116.21 54.21,117.31 54.22,118.05 54.29,118.71 54.43,119.72 54.36,121.02 54.37,121.97 54.51,122.48 54.59,123.70 54.57,124.77 54.63,125.30 54.61,126.20 54.69,127.80 54.63,128.71 54.72,129.49 54.78,129.98 54.71,131.53 54.74,132.36 54.82,132.89 54.86,133.65 54.79,135.30 54.78,136.19 54.86,137.04 54.92,138.04 54.87,138.92 55.06,139.17 55.04,140.53 55.00,140.96 55.01,142.15 55.19,143.56 55.21,144.44 55.12,144.87 55.30,144.19 55.54,143.04 55.64,142.00 55.90,140.66 56.14,139.62 56.32,138.72 56.61,137.72 57.14,137.41 57.38,138.44 57.52,140.16 57.66,140.73 57.81,141.72 57.91,143.09 57.97,143.54 58.09,144.62 58.30,145.56 58.33,146.61 58.43,147.67 58.64,146.74 59.03,145.63 59.23,144.23 59.61,143.41 60.25,142.13 61.04,141.69 61.17,142.68 61.41,143.63 61.55,145.23 61.88,146.05 61.98,146.83 62.24,148.18 62.38,148.73 62.46,149.70 62.63,151.39 62.95,152.34 63.20,153.09 63.36,154.00 63.61,154.82 63.93,155.98 64.12,156.87 64.38,157.73 65.41,158.66 66.41,159.56 67.41,159.87 68.40,160.18 70.00,159.44 71.40,160.49 72.36,160.51 73.32,160.56 74.27,160.58 75.23,160.59 76.19,160.62 77.15,160.65 78.11,160.68 79.07,160.70 80.03,160.72 80.98,160.75 81.94,160.78 82.90,160.80" fill="none" stroke="#111111" stroke-width="1.1" stroke-linejoin="round" stroke-linecap="round"/>
<rect x="31.25" y="110.5" width="52.15" height="51.25" fill="none" stroke="#303030" stroke-width="1.0"/>
<polyline points="94.30,160.50 94.79,159.73 95.28,159.03 95.67,158.01 96.05,156.83 96.42,155.78 96.74,154.75 97.07,153.95 97.17,152.71 97.53,152.10 97.64,151.06 97.78,150.38 98.04,149.29 98.22,147.72 98.51,146.95 98.62,145.94 98.72,145.41 98.81,144.44 98.99,143.15 99.19,142.74 99.37,141.55 99.46,140.76 99.69,140.14 99.81,138.80 100.01,138.11 100.03,137.37 100.13,136.66 100.40,135.30 100.48,134.18 100.65,133.18 100.77,132.85 100.85,132.03 101.05,130.97 101.15,129.97 101.39,129.27 101.48,128.08 101.64,126.85 101.85,126.42 101.86,125.66 102.08,124.41 102.19,123.22 102.27,122.43 102.55,121.45 102.60,120.60 102.87,119.91 102.99,118.66 103.28,118.04 103.47,117.26 103.58,115.82 103.88,114.89 104.43,114.27 104.85,114.69 105.30,115.79 105.38,117.07 105.53,117.60 105.69,118.90 105.84,120.36 105.95,121.01 105.96,122.14 106.23,123.32 106.36,124.30 106.37,124.84 106.51,125.53 106.49,126.42 106.60,127.46 106.67,128.49 106.78,129.14 106.92,130.14 107.11,131.01 107.06,132.40 107.19,133.03 107.24,134.05 107.51,135.36 107.50,135.97 107.52,136.59 107.65,137.72 107.73,139.03 107.99,139.31 107.93,140.64 108.01,141.57 108.30,142.48 108.34,143.68 108.37,144.12 108.55,144.96 108.66,146.18 108.64,146.94 108.90,148.25 109.00,149.28 109.13,150.25 109.23,150.78 109.28,151.88 109.47,152.63 109.69,153.84 109.79,155.26 110.11,156.21 110.29,157.17 110.53,157.92 110.79,158.95 111.56,159.91 112.30,160.80" fill="none" stroke="#b4b4b4" stroke-width="0.7" stroke-linejoin="round" stroke-linecap="round"/>
<polyline points="94.30,160.00 95.32,159.46 96.31,158.93 97.28,158.14 98.28,157.66 98.96,156.73 99.63,155.81 100.35,154.82 100.69,153.89 101.12,152.97 101.68,152.43 102.22,151.90 102.90,152.81 103.32,153.70 104.07,154.93 104.82,155.92 105.57,156.50 106.31,157.15 107.76,156.86 108.23,156.21 108.73,154.82 109.14,154.05 109.20,153.30 109.46,151.89 109.58,150.71 109.71,149.68 109.90,149.16 109.96,148.27 110.03,146.76 110.20,146.12 110.38,144.86 110.44,144.31 110.45,143.18 110.57,142.11 110.68,141.41 110.87,140.60 110.84,140.11 110.93,138.82 111.19,138.13 111.24,136.76 111.18,135.84 111.33,135.21 111.44,133.74 111.52,132.79 111.61,131.96 111.67,131.07 111.72,129.68 112.07,128.79 112.39,128.09 112.64,127.30 112.71,128.58 112.93,128.71 113.21,129.91 113.32,129.20 113.40,128.37 113.59,127.27 113.71,126.30 113.95,125.37 114.02,124.39 114.19,122.74 114.12,121.95 114.30,121.08 114.33,119.98 114.52,118.70 114.57,117.96 114.83,116.95 114.91,116.17 115.03,114.92 115.14,113.78 115.62,113.16 115.84,114.34 115.80,115.21 115.99,115.97 116.19,116.71 116.20,118.20 116.17,119.10 116.27,119.65 116.33,121.00 116.36,121.34 116.42,122.99 116.50,123.94 116.39,124.31 116.56,125.50 116.59,126.30 116.54,127.61 116.66,128.37 116.56,129.43 116.57,130.41 116.76,130.96 116.66,132.28 116.77,132.75 116.83,134.11 116.89,135.10 116.91,135.93 116.92,136.48 116.99,137.50 116.98,138.69 117.12,139.00 117.11,140.08 117.24,140.87 117.18,141.91 117.27,143.26 117.39,143.75 117.33,144.78 117.46,146.14 117.40,146.88 117.52,147.85 117.61,146.94 117.84,145.98 117.95,144.75 118.16,144.14 118.26,143.34 118.52,141.61 118.72,140.95 119.17,139.67 119.54,141.17 119.82,141.67 119.97,143.27 119.98,143.81 120.28,145.26 120.32,146.02 120.55,147.14 120.64,148.03 120.72,148.68 120.87,149.69 121.12,148.88 121.47,148.11 121.75,146.73 122.44,146.06 123.02,145.53 123.33,145.98 123.68,146.84 123.81,147.69 124.15,149.04 124.31,150.26 124.58,150.86 124.70,152.19 124.99,153.05 125.17,154.34 125.35,154.75 125.62,155.88 125.90,156.98 126.23,157.95 126.50,158.82 127.40,159.46 128.31,160.03 129.31,160.10 130.30,160.17 131.30,160.28 132.30,160.33 133.30,160.43 134.30,160.52 135.30,160.61 136.25,160.63 137.21,160.63 138.16,160.66 139.12,160.67 140.07,160.69 141.03,160.71 141.98,160.73 142.94,160.75 143.89,160.76 144.85,160.78 145.80,160.80" fill="none" stroke="#111111" stroke-width="1.1" stroke-linejoin="round" stroke-linecap="round"/>
<rect x="93.75" y="110.5" width="52.15" height="51.25" fill="none" stroke="#303030" stroke-width="1.0"/>
<text x="24.7" y="133.5" font-size="6.2" text-anchor="middle" font-weight="normal" fill="#111111" stroke="#111111" transform="rotate(-90 24.7 133.5)" style="stroke-width:0.17px">counts</text>
<line x1="29.4" y1="170.3" x2="73.3" y2="170.3" stroke="#333" stroke-width="0.8"/>
<text x="86" y="173.2" font-size="5.4" text-anchor="middle" font-weight="normal" fill="#111111" stroke="#111111" style="stroke-width:0.10px">CFSE</text>
<line x1="99.4" y1="170.3" x2="144.4" y2="170.3" stroke="#111111" stroke-width="0.8"/>
<polygon points="148.4,170.3 143.4,168.9 143.4,171.70000000000002" fill="#111111"/>
<text x="268.7" y="96.9" font-size="13.5" text-anchor="start" font-weight="bold" fill="#000" stroke="#000" style="stroke-width:0">C</text>
<text x="288.3" y="104.5" font-size="7.5" text-anchor="start" font-weight="normal" fill="#111111" stroke="#111111">sm2</text>
<line x1="303.5" y1="102.5" x2="308.3" y2="102.5" stroke="#111111" stroke-width="0.8"/>
<polygon points="312.2,102.5 307.3,100.9 307.3,104.1" fill="#111111"/>
<text x="317.5" y="104.5" font-size="7.5" text-anchor="start" font-weight="normal" fill="#111111" stroke="#111111">B6</text>
<text x="336" y="104.5" font-size="7.5" text-anchor="start" font-weight="normal" fill="#111111" stroke="#111111">IL-21R-/- sm2</text>
<line x1="383" y1="102.5" x2="388.40000000000003" y2="102.5" stroke="#111111" stroke-width="0.8"/>
<polygon points="392.3,102.5 387.40000000000003,100.9 387.40000000000003,104.1" fill="#111111"/>
<text x="394.9" y="104.5" font-size="7.5" text-anchor="start" font-weight="normal" fill="#111111" stroke="#111111">B6</text>
<polyline points="282.70,160.40 284.40,110.30 297.20,110.30 297.31,111.52 297.19,111.79 297.33,113.23 297.29,114.02 297.37,114.87 297.32,115.76 297.40,116.55 297.53,117.66 297.48,118.71 297.47,119.26 297.46,119.88 297.54,121.08 297.67,121.92 297.63,122.94 297.56,123.66 297.61,124.65 297.78,125.70 297.66,126.74 297.79,127.82 297.84,128.63 297.84,129.57 297.90,130.21 297.78,131.56 297.90,132.34 297.89,133.06 297.98,134.00 297.99,134.93 298.02,135.75 297.97,137.06 298.07,137.75 298.09,138.78 298.15,139.35 298.21,140.61 298.31,141.67 298.41,142.60 298.57,143.55 298.63,144.16 298.73,145.18 298.75,145.87 299.12,146.91 299.21,147.89 299.56,148.92 299.71,149.89 299.92,150.67 300.21,151.63 300.56,152.36 300.75,153.34 300.97,154.78 301.69,155.58 302.32,156.78 303.79,157.49 304.41,156.80 305.04,156.05 305.52,156.91 305.99,157.80 307.48,157.29 308.51,158.14 308.97,157.27 309.47,156.57 309.98,155.30 310.41,154.68 310.73,153.52 311.12,152.57 311.54,152.19 311.79,151.41 312.04,150.50 312.20,149.36 312.47,148.61 312.84,147.17 313.13,146.66 313.31,145.53 313.39,144.56 313.53,143.95 313.69,142.77 313.84,141.44 313.87,140.60 314.02,139.60 314.22,138.72 314.38,138.10 314.47,137.49 314.46,136.09 314.58,135.19 314.71,134.54 314.70,133.69 314.84,132.58 314.85,131.38 314.95,130.75 315.06,130.07 315.14,128.72 315.28,127.85 315.44,127.09 315.60,125.98 315.77,124.95 315.87,124.51 315.95,123.18 316.00,122.32 316.20,121.24 316.25,122.03 316.41,123.41 316.62,124.16 316.63,125.18 316.76,126.39 316.93,126.66 316.97,127.72 317.13,129.24 317.19,129.66 317.30,130.94 317.42,131.80 317.46,132.70 317.68,133.91 317.74,134.70 317.81,135.78 317.89,136.92 317.98,138.18 318.03,138.74 318.26,139.71 318.42,141.10 318.40,142.13 318.68,143.11 318.77,144.16 318.91,144.90 319.02,146.21 319.20,147.02 319.40,148.23 319.54,149.13 319.58,149.60 319.73,150.65 319.95,151.52 320.07,152.78 320.14,153.59 320.59,154.30 320.84,155.19 321.14,156.17 321.53,157.41 322.08,158.06 322.69,158.74 323.30,159.51 324.23,159.62 325.15,159.73 326.08,159.90 327.00,159.99 327.94,160.06 328.89,160.12 329.83,160.18 330.77,160.24 331.71,160.29 332.66,160.34 333.60,160.40" fill="#c0c0c0" stroke="#111111" stroke-width="1.0" stroke-linejoin="round" stroke-linecap="round"/>
<rect x="282.3" y="109.8" width="51.80" height="50.80" fill="none" stroke="#303030" stroke-width="1.0"/>
<line x1="282.3" y1="160.6" x2="282.3" y2="161.7" stroke="#303030" stroke-width="0.7"/>
<line x1="281.2" y1="160.6" x2="282.3" y2="160.6" stroke="#303030" stroke-width="0.7"/>
<line x1="295.25" y1="160.6" x2="295.25" y2="161.7" stroke="#303030" stroke-width="0.7"/>
<line x1="281.2" y1="147.9" x2="282.3" y2="147.9" stroke="#303030" stroke-width="0.7"/>
<line x1="308.20000000000005" y1="160.6" x2="308.20000000000005" y2="161.7" stroke="#303030" stroke-width="0.7"/>
<line x1="281.2" y1="135.2" x2="282.3" y2="135.2" stroke="#303030" stroke-width="0.7"/>
<line x1="321.15000000000003" y1="160.6" x2="321.15000000000003" y2="161.7" stroke="#303030" stroke-width="0.7"/>
<line x1="281.2" y1="122.5" x2="282.3" y2="122.5" stroke="#303030" stroke-width="0.7"/>
<line x1="334.1" y1="160.6" x2="334.1" y2="161.7" stroke="#303030" stroke-width="0.7"/>
<line x1="281.2" y1="109.8" x2="282.3" y2="109.8" stroke="#303030" stroke-width="0.7"/>
<line x1="309.4" y1="137.7" x2="329.8" y2="137.7" stroke="#111111" stroke-width="0.9"/>
<line x1="309.4" y1="136.1" x2="309.4" y2="139.29999999999998" stroke="#111111" stroke-width="0.9"/>
<line x1="329.8" y1="136.1" x2="329.8" y2="139.29999999999998" stroke="#111111" stroke-width="0.9"/>
<text x="325.7" y="134.0" font-size="6.3" text-anchor="middle" font-weight="normal" fill="#111111" stroke="#111111" style="stroke-width:0.15px">7.61</text>
<polyline points="342.70,160.40 344.30,110.30 357.00,110.30 357.01,111.19 357.12,111.91 357.10,112.74 357.07,114.19 357.18,114.90 357.18,115.50 357.23,116.82 357.22,117.74 357.24,118.36 357.40,119.44 357.41,120.40 357.44,121.19 357.40,121.93 357.50,123.19 357.44,123.95 357.50,124.77 357.63,125.70 357.68,126.56 357.59,127.88 357.70,128.49 357.73,129.19 357.72,130.64 357.76,131.36 357.92,132.27 357.83,132.96 357.95,133.80 357.92,134.67 358.08,135.87 358.04,136.74 358.04,137.78 358.14,138.68 358.35,139.63 358.38,140.22 358.41,141.48 358.62,142.21 358.58,143.58 358.80,144.33 358.84,144.98 358.89,145.80 359.01,147.10 359.11,148.05 359.40,148.68 359.51,149.71 359.76,150.48 359.78,151.47 360.00,152.49 360.16,153.16 360.58,154.17 361.01,155.04 361.42,156.07 361.82,157.09 362.53,157.96 363.26,158.63 364.00,159.32 365.01,159.52 366.00,159.76 367.00,160.01 368.25,159.61 369.49,159.23 370.27,158.33 371.02,157.53 371.41,156.71 371.76,155.37 372.19,154.40 372.66,153.56 372.75,152.49 372.95,151.68 373.21,150.47 373.33,149.90 373.63,148.83 373.78,148.09 373.95,147.23 374.20,146.19 374.32,145.35 374.42,143.95 374.60,143.27 374.75,142.39 374.93,141.54 375.09,140.15 375.31,139.47 375.51,138.41 375.89,137.45 376.15,136.46 376.41,135.14 376.61,134.63 376.86,135.31 377.03,136.45 377.36,137.19 377.63,137.88 377.64,139.03 377.79,139.92 377.92,140.69 378.02,141.33 378.16,142.42 378.25,143.24 378.32,144.44 378.33,145.43 378.52,146.16 378.59,147.11 378.68,147.70 378.81,148.97 378.96,149.60 379.11,150.80 379.28,151.49 379.40,152.63 379.55,153.43 379.67,154.68 379.78,155.77 379.86,156.43 380.02,157.44 380.59,158.15 381.19,158.86 381.81,159.63 382.71,159.65 383.62,159.72 384.52,159.78 385.43,159.84 386.34,159.91 387.25,159.97 388.15,160.02 389.06,160.10 389.97,160.15 390.88,160.22 391.78,160.27 392.69,160.34 393.60,160.40" fill="#c0c0c0" stroke="#111111" stroke-width="1.0" stroke-linejoin="round" stroke-linecap="round"/>
<rect x="342.3" y="109.8" width="51.80" height="50.80" fill="none" stroke="#303030" stroke-width="1.0"/>
<line x1="342.3" y1="160.6" x2="342.3" y2="161.7" stroke="#303030" stroke-width="0.7"/>
<line x1="341.2" y1="160.6" x2="342.3" y2="160.6" stroke="#303030" stroke-width="0.7"/>
<line x1="355.25" y1="160.6" x2="355.25" y2="161.7" stroke="#303030" stroke-width="0.7"/>
<line x1="341.2" y1="147.9" x2="342.3" y2="147.9" stroke="#303030" stroke-width="0.7"/>
<line x1="368.20000000000005" y1="160.6" x2="368.20000000000005" y2="161.7" stroke="#303030" stroke-width="0.7"/>
<line x1="341.2" y1="135.2" x2="342.3" y2="135.2" stroke="#303030" stroke-width="0.7"/>
<line x1="381.15000000000003" y1="160.6" x2="381.15000000000003" y2="161.7" stroke="#303030" stroke-width="0.7"/>
<line x1="341.2" y1="122.5" x2="342.3" y2="122.5" stroke="#303030" stroke-width="0.7"/>
<line x1="394.1" y1="160.6" x2="394.1" y2="161.7" stroke="#303030" stroke-width="0.7"/>
<line x1="341.2" y1="109.8" x2="342.3" y2="109.8" stroke="#303030" stroke-width="0.7"/>
<line x1="369.2" y1="138.2" x2="389.6" y2="138.2" stroke="#111111" stroke-width="0.9"/>
<line x1="369.2" y1="136.6" x2="369.2" y2="139.79999999999998" stroke="#111111" stroke-width="0.9"/>
<line x1="389.6" y1="136.6" x2="389.6" y2="139.79999999999998" stroke="#111111" stroke-width="0.9"/>
<text x="386.1" y="134.4" font-size="6.3" text-anchor="middle" font-weight="normal" fill="#111111" stroke="#111111" style="stroke-width:0.15px">6.17</text>
<text x="275.3" y="130.8" font-size="7.5" text-anchor="middle" font-weight="normal" fill="#111111" stroke="#111111" transform="rotate(-90 275.3 130.8)">DLN: counts</text>
<line x1="282.1" y1="171.7" x2="325.2" y2="171.7" stroke="#333" stroke-width="0.8"/>
<text x="337.8" y="174.4" font-size="7.5" text-anchor="middle" font-weight="normal" fill="#111111" stroke="#111111">Vα2</text>
<line x1="346.7" y1="171.7" x2="388.2" y2="171.7" stroke="#111111" stroke-width="0.8"/>
<polygon points="391.7,171.7 387.2,170.1 387.2,173.29999999999998" fill="#111111"/>
<rect x="430.2" y="98.1" width="7.2" height="3.0" fill="#000"/>
<rect x="430.65" y="108.65" width="7.1000000000000005" height="2.7" fill="#fff" stroke="#000" stroke-width="0.9"/>
<text x="442.4" y="102.1" font-size="7.65" text-anchor="start" font-weight="normal" fill="#111111" stroke="#111111">sm2</text>
<line x1="461.8" y1="99.8" x2="471.3" y2="99.8" stroke="#111111" stroke-width="0.9"/>
<polygon points="474.3,99.8 470.3,98.3 470.3,101.3" fill="#111111"/>
<text x="478.0" y="102.1" font-size="7.65" text-anchor="start" font-weight="normal" fill="#111111" stroke="#111111">B6</text>
<text x="442.4" y="111.3" font-size="7.65" text-anchor="start" font-weight="normal" fill="#111111" stroke="#111111">IL-21R-/- sm2</text>
<line x1="492.3" y1="109.0" x2="501.6" y2="109.0" stroke="#111111" stroke-width="0.9"/>
<polygon points="504.6,109.0 500.6,107.5 500.6,110.5" fill="#111111"/>
<text x="510.8" y="111.3" font-size="7.65" text-anchor="start" font-weight="normal" fill="#111111" stroke="#111111">B6</text>
<line x1="442.6" y1="123.2" x2="442.6" y2="131.0" stroke="#111111" stroke-width="0.9"/>
<line x1="440.1" y1="123.2" x2="445.1" y2="123.2" stroke="#111111" stroke-width="0.9"/>
<rect x="438.45" y="131.0" width="8.30" height="31.20" fill="#000" stroke="#000" stroke-width="0.9"/>
<line x1="455.2" y1="133.2" x2="455.2" y2="134.2" stroke="#111111" stroke-width="0.9"/>
<line x1="452.7" y1="133.2" x2="457.7" y2="133.2" stroke="#111111" stroke-width="0.9"/>
<rect x="450.84999999999997" y="134.2" width="8.70" height="28.00" fill="#fff" stroke="#000" stroke-width="0.9"/>
<line x1="477.15" y1="152.7" x2="477.15" y2="155.2" stroke="#111111" stroke-width="0.9"/>
<line x1="474.65" y1="152.7" x2="479.65" y2="152.7" stroke="#111111" stroke-width="0.9"/>
<rect x="472.95" y="155.2" width="8.40" height="7.00" fill="#000" stroke="#000" stroke-width="0.9"/>
<line x1="489.9" y1="156.5" x2="489.9" y2="156.9" stroke="#111111" stroke-width="0.9"/>
<line x1="487.4" y1="156.5" x2="492.4" y2="156.5" stroke="#111111" stroke-width="0.9"/>
<rect x="485.45" y="156.9" width="8.90" height="5.30" fill="#fff" stroke="#000" stroke-width="0.9"/>
<line x1="431.2" y1="115.29999999999998" x2="431.2" y2="162.6" stroke="#111111" stroke-width="0.9"/>
<line x1="430.8" y1="162.2" x2="501.2" y2="162.2" stroke="#111111" stroke-width="0.9"/>
<line x1="429.7" y1="162.2" x2="431.2" y2="162.2" stroke="#111111" stroke-width="0.9"/>
<text x="425.4" y="164.648" font-size="6.8" text-anchor="end" font-weight="bold" fill="#111111" stroke="#111111">0</text>
<line x1="429.7" y1="146.7" x2="431.2" y2="146.7" stroke="#111111" stroke-width="0.9"/>
<text x="425.4" y="149.148" font-size="6.8" text-anchor="end" font-weight="bold" fill="#111111" stroke="#111111">1</text>
<line x1="429.7" y1="131.2" x2="431.2" y2="131.2" stroke="#111111" stroke-width="0.9"/>
<text x="425.4" y="133.648" font-size="6.8" text-anchor="end" font-weight="bold" fill="#111111" stroke="#111111">2</text>
<line x1="429.7" y1="115.69999999999999" x2="431.2" y2="115.69999999999999" stroke="#111111" stroke-width="0.9"/>
<text x="425.4" y="118.14799999999998" font-size="6.8" text-anchor="end" font-weight="bold" fill="#111111" stroke="#111111">3</text>
<line x1="448.2" y1="162.2" x2="448.2" y2="163.89999999999998" stroke="#111111" stroke-width="0.9"/>
<line x1="483.3" y1="162.2" x2="483.3" y2="163.89999999999998" stroke="#111111" stroke-width="0.9"/>
<text x="448.3" y="172.8" font-size="7.5" text-anchor="middle" font-weight="normal" fill="#111111" stroke="#111111">CD4</text>
<text x="488.0" y="173.0" font-size="7.7" text-anchor="middle" font-weight="normal" fill="#111111" stroke="#111111">CD4+Vα2+</text>
<text x="417" y="137" font-size="7.5" text-anchor="middle" fill="#111111" stroke="#111111" transform="rotate(-90 417 137)">cells (x 10<tspan font-size="5" dy="-2.4">6</tspan><tspan dy="2.4">)</tspan></text>
<text x="0.5" y="187.8" font-size="13.5" text-anchor="start" font-weight="bold" fill="#000" stroke="#000" style="stroke-width:0">D</text>
<text x="20.2" y="198.7" font-size="7.5" text-anchor="start" font-weight="normal" fill="#111111" stroke="#111111">sm2</text>
<line x1="35.8" y1="196.6" x2="40.7" y2="196.6" stroke="#111111" stroke-width="0.8"/>
<polygon points="44.6,196.6 39.7,195.0 39.7,198.2" fill="#111111"/>
<text x="49" y="198.7" font-size="7.5" text-anchor="start" font-weight="normal" fill="#111111" stroke="#111111">B6</text>
<text x="67.3" y="198.7" font-size="7.5" text-anchor="start" font-weight="normal" fill="#111111" stroke="#111111">IL-21R-/- sm2</text>
<line x1="118.5" y1="196.6" x2="122.89999999999999" y2="196.6" stroke="#111111" stroke-width="0.8"/>
<polygon points="126.8,196.6 121.89999999999999,195.0 121.89999999999999,198.2" fill="#111111"/>
<text x="131.1" y="198.7" font-size="7.5" text-anchor="start" font-weight="normal" fill="#111111" stroke="#111111">B6</text>
<polyline points="14.70,254.00 14.70,253.07 14.71,252.17 14.67,251.34 14.73,250.20 14.67,249.38 14.70,248.90 14.70,247.94 14.63,246.91 14.78,246.02 14.75,245.02 15.40,244.15 16.02,243.23 16.39,241.82 16.99,241.58 17.59,240.70 18.19,239.94 18.77,238.91 19.16,238.12 19.34,237.67 19.74,236.17 20.06,235.94 20.31,234.66 20.60,233.58 20.92,232.47 21.05,231.73 21.11,230.88 21.18,230.09 21.05,228.98 21.29,228.21 21.26,227.31 21.24,226.19 21.37,225.30 21.32,223.81 21.58,223.32 21.60,221.63 21.51,220.92 21.70,219.81 21.60,219.34 21.65,218.10 21.78,217.20 21.98,216.34 22.04,215.00 21.89,213.83 21.94,213.09 22.08,211.73 22.11,211.18 22.35,209.75 22.45,209.08 22.41,208.69 22.52,207.38 22.62,206.63 22.93,205.45 23.20,204.70 24.25,203.44 25.16,204.36 26.30,204.03 27.29,204.84 27.62,205.79 27.83,206.50 27.90,208.12 28.09,209.11 28.17,210.16 28.35,211.19 28.30,211.57 28.60,213.16 28.56,213.69 28.60,214.90 28.68,215.60 28.81,216.52 28.84,217.37 28.83,218.70 29.06,219.43 29.02,220.10 29.10,221.46 29.21,221.81 29.21,223.18 29.33,223.80 29.43,225.22 29.44,226.20 29.61,226.69 29.64,228.15 29.63,228.51 29.72,229.75 29.94,230.96 29.88,231.36 30.03,232.88 30.05,233.81 30.13,234.13 30.22,235.66 30.34,236.20 30.42,237.19 30.46,238.58 30.72,238.69 30.82,240.41 30.90,240.94 30.87,242.36 31.13,243.16 31.19,244.06 31.28,244.70 31.35,245.61 31.53,246.90 31.62,248.02 32.03,249.10 32.35,250.13 32.61,251.13 33.26,251.78 33.89,252.76 34.95,253.07 36.01,253.29 37.25,253.26 38.51,253.18 39.46,252.60 40.38,251.97 41.23,251.01 42.03,249.85 42.61,249.49 43.06,248.73 43.76,247.89 44.45,246.44 45.31,245.59 45.86,244.96 46.32,244.52 46.92,243.10 47.90,242.46 48.63,242.48 49.10,240.93 49.51,240.23 50.03,239.37 50.42,238.53 50.86,237.12 51.31,238.11 51.67,239.69 51.86,240.09 52.19,241.32 52.37,242.65 52.55,243.59 52.61,244.18 52.81,245.16 52.92,246.01 52.95,246.97 53.16,248.02 53.24,248.76 53.42,249.97 53.49,251.15 54.02,251.90 54.50,252.56 55.71,253.37 56.62,253.46 57.54,253.53 58.46,253.58 59.37,253.60 60.29,253.65 61.21,253.74 62.12,253.77 63.04,253.84 63.96,253.89 64.88,253.94 65.80,254.00" fill="#c0c0c0" stroke="#111111" stroke-width="1.0" stroke-linejoin="round" stroke-linecap="round"/>
<rect x="14.5" y="202.7" width="51.70" height="51.50" fill="none" stroke="#303030" stroke-width="1.0"/>
<line x1="14.5" y1="254.2" x2="14.5" y2="255.29999999999998" stroke="#303030" stroke-width="0.7"/>
<line x1="13.4" y1="254.2" x2="14.5" y2="254.2" stroke="#303030" stroke-width="0.7"/>
<line x1="27.425" y1="254.2" x2="27.425" y2="255.29999999999998" stroke="#303030" stroke-width="0.7"/>
<line x1="13.4" y1="241.325" x2="14.5" y2="241.325" stroke="#303030" stroke-width="0.7"/>
<line x1="40.35" y1="254.2" x2="40.35" y2="255.29999999999998" stroke="#303030" stroke-width="0.7"/>
<line x1="13.4" y1="228.45" x2="14.5" y2="228.45" stroke="#303030" stroke-width="0.7"/>
<line x1="53.275000000000006" y1="254.2" x2="53.275000000000006" y2="255.29999999999998" stroke="#303030" stroke-width="0.7"/>
<line x1="13.4" y1="215.575" x2="14.5" y2="215.575" stroke="#303030" stroke-width="0.7"/>
<line x1="66.2" y1="254.2" x2="66.2" y2="255.29999999999998" stroke="#303030" stroke-width="0.7"/>
<line x1="13.4" y1="202.7" x2="14.5" y2="202.7" stroke="#303030" stroke-width="0.7"/>
<line x1="41.3" y1="231.6" x2="61.7" y2="231.6" stroke="#111111" stroke-width="0.9"/>
<line x1="41.3" y1="230.0" x2="41.3" y2="233.2" stroke="#111111" stroke-width="0.9"/>
<line x1="61.7" y1="230.0" x2="61.7" y2="233.2" stroke="#111111" stroke-width="0.9"/>
<text x="53.3" y="227.8" font-size="6.3" text-anchor="middle" font-weight="normal" fill="#111111" stroke="#111111" style="stroke-width:0.15px">16.5</text>
<polyline points="73.60,254.00 73.99,252.97 74.38,251.98 74.79,250.87 74.96,250.17 75.03,249.13 75.17,248.02 75.26,246.77 75.55,245.77 75.66,245.26 75.69,244.24 75.93,242.85 76.12,242.19 76.12,241.30 76.38,240.08 76.44,239.00 76.63,237.98 77.01,237.35 77.11,236.04 77.38,235.33 77.65,234.31 77.78,233.01 78.00,232.08 78.19,230.73 78.36,230.25 78.69,228.64 78.89,227.82 79.07,226.98 79.31,226.52 79.59,225.18 79.88,224.48 80.25,223.38 80.58,222.42 80.85,221.96 81.25,220.35 81.46,219.97 81.55,218.61 81.71,217.62 81.90,216.57 82.09,216.32 82.21,215.17 82.20,213.57 82.42,213.31 82.57,211.85 82.66,211.00 82.71,209.76 82.88,208.91 83.22,207.88 83.20,206.87 83.58,205.39 83.97,204.73 84.72,203.13 85.02,204.59 85.18,204.87 85.43,205.64 85.54,207.14 85.73,207.63 85.94,208.80 85.96,209.70 86.05,211.22 86.18,212.39 86.28,212.79 86.35,213.53 86.52,214.60 86.51,215.96 86.53,216.23 86.59,217.29 86.79,218.19 86.70,219.01 86.87,220.54 86.91,221.49 87.03,222.32 87.12,223.20 87.06,223.92 87.29,224.66 87.38,226.17 87.40,226.69 87.46,228.02 87.51,229.00 87.62,229.83 87.74,230.49 87.64,232.00 87.89,232.98 87.82,233.66 87.95,234.77 88.17,235.75 88.18,235.95 88.38,237.33 88.56,238.35 88.49,238.85 88.60,240.34 88.75,241.26 89.01,242.16 89.10,243.17 89.15,244.13 89.31,244.92 89.53,246.06 89.60,246.68 89.79,247.51 90.13,248.95 90.41,250.15 90.84,251.00 91.30,252.25 92.21,252.50 93.09,252.97 94.00,253.30 95.00,253.37 96.00,253.38 96.99,253.48 98.00,253.48 98.92,253.42 99.85,253.30 100.75,253.22 101.67,253.13 102.61,252.98 103.56,252.49 104.52,251.93 105.38,251.32 106.29,250.80 107.19,250.42 107.95,250.08 108.90,250.23 109.82,250.60 110.62,251.30 111.52,251.95 112.51,252.58 113.50,253.24 114.40,253.29 115.31,253.35 116.21,253.44 117.10,253.51 118.00,253.61 118.91,253.65 119.82,253.71 120.74,253.75 121.65,253.79 122.56,253.85 123.47,253.90 124.39,253.95 125.30,254.00" fill="#c0c0c0" stroke="#111111" stroke-width="1.0" stroke-linejoin="round" stroke-linecap="round"/>
<rect x="73.0" y="202.7" width="52.80" height="51.50" fill="none" stroke="#303030" stroke-width="1.0"/>
<line x1="73.0" y1="254.2" x2="73.0" y2="255.29999999999998" stroke="#303030" stroke-width="0.7"/>
<line x1="71.9" y1="254.2" x2="73.0" y2="254.2" stroke="#303030" stroke-width="0.7"/>
<line x1="86.2" y1="254.2" x2="86.2" y2="255.29999999999998" stroke="#303030" stroke-width="0.7"/>
<line x1="71.9" y1="241.325" x2="73.0" y2="241.325" stroke="#303030" stroke-width="0.7"/>
<line x1="99.4" y1="254.2" x2="99.4" y2="255.29999999999998" stroke="#303030" stroke-width="0.7"/>
<line x1="71.9" y1="228.45" x2="73.0" y2="228.45" stroke="#303030" stroke-width="0.7"/>
<line x1="112.6" y1="254.2" x2="112.6" y2="255.29999999999998" stroke="#303030" stroke-width="0.7"/>
<line x1="71.9" y1="215.575" x2="73.0" y2="215.575" stroke="#303030" stroke-width="0.7"/>
<line x1="125.8" y1="254.2" x2="125.8" y2="255.29999999999998" stroke="#303030" stroke-width="0.7"/>
<line x1="71.9" y1="202.7" x2="73.0" y2="202.7" stroke="#303030" stroke-width="0.7"/>
<line x1="101.4" y1="232.1" x2="121.7" y2="232.1" stroke="#111111" stroke-width="0.9"/>
<line x1="101.4" y1="230.5" x2="101.4" y2="233.7" stroke="#111111" stroke-width="0.9"/>
<line x1="121.7" y1="230.5" x2="121.7" y2="233.7" stroke="#111111" stroke-width="0.9"/>
<text x="112.5" y="229.2" font-size="6.3" text-anchor="middle" font-weight="normal" fill="#111111" stroke="#111111" style="stroke-width:0.15px">7.28</text>
<text x="8.4" y="225" font-size="7.5" text-anchor="middle" font-weight="normal" fill="#111111" stroke="#111111" transform="rotate(-90 8.4 225)">BAL: counts</text>
<line x1="14" y1="263.8" x2="58.7" y2="263.8" stroke="#333" stroke-width="0.8"/>
<text x="69.6" y="266.0" font-size="7.5" text-anchor="middle" font-weight="normal" fill="#111111" stroke="#111111">Vα2</text>
<line x1="78.6" y1="263.8" x2="121.7" y2="263.8" stroke="#111111" stroke-width="0.8"/>
<polygon points="125.2,263.8 120.7,262.2 120.7,265.40000000000003" fill="#111111"/>
<rect x="167.0" y="190.6" width="7.4" height="4.0" fill="#000"/>
<rect x="167.45" y="201.75" width="7.300000000000001" height="2.6" fill="#fff" stroke="#000" stroke-width="0.9"/>
<text x="179.0" y="195.6" font-size="7.65" text-anchor="start" font-weight="normal" fill="#111111" stroke="#111111">sm2</text>
<line x1="197" y1="193.29999999999998" x2="206.6" y2="193.29999999999998" stroke="#111111" stroke-width="0.9"/>
<polygon points="209.6,193.29999999999998 205.6,191.79999999999998 205.6,194.79999999999998" fill="#111111"/>
<text x="212.9" y="195.6" font-size="7.65" text-anchor="start" font-weight="normal" fill="#111111" stroke="#111111">B6</text>
<text x="179.0" y="205.3" font-size="7.65" text-anchor="start" font-weight="normal" fill="#111111" stroke="#111111">IL-21R-/- sm2</text>
<line x1="229.7" y1="203.0" x2="239.7" y2="203.0" stroke="#111111" stroke-width="0.9"/>
<polygon points="242.7,203.0 238.7,201.5 238.7,204.5" fill="#111111"/>
<text x="246.8" y="205.3" font-size="7.65" text-anchor="start" font-weight="normal" fill="#111111" stroke="#111111">B6</text>
<line x1="172.5" y1="210.1" x2="172.5" y2="224.2" stroke="#111111" stroke-width="0.9"/>
<line x1="170.3" y1="210.1" x2="174.7" y2="210.1" stroke="#111111" stroke-width="0.9"/>
<rect x="168.45" y="224.2" width="8.10" height="30.20" fill="#000" stroke="#000" stroke-width="0.9"/>
<line x1="184.95" y1="226.6" x2="184.95" y2="235.2" stroke="#111111" stroke-width="0.9"/>
<line x1="182.75" y1="226.6" x2="187.14999999999998" y2="226.6" stroke="#111111" stroke-width="0.9"/>
<rect x="180.75" y="235.2" width="8.40" height="19.20" fill="#fff" stroke="#000" stroke-width="0.9"/>
<line x1="207.2" y1="237.9" x2="207.2" y2="243.2" stroke="#111111" stroke-width="0.9"/>
<line x1="205.0" y1="237.9" x2="209.39999999999998" y2="237.9" stroke="#111111" stroke-width="0.9"/>
<rect x="203.04999999999998" y="243.2" width="8.30" height="11.20" fill="#000" stroke="#000" stroke-width="0.9"/>
<line x1="220.1" y1="250.1" x2="220.1" y2="251.6" stroke="#111111" stroke-width="0.9"/>
<line x1="217.9" y1="250.1" x2="222.29999999999998" y2="250.1" stroke="#111111" stroke-width="0.9"/>
<rect x="215.45" y="251.6" width="9.30" height="2.80" fill="#fff" stroke="#000" stroke-width="0.9"/>
<line x1="161.2" y1="207.6" x2="161.2" y2="254.8" stroke="#111111" stroke-width="0.9"/>
<line x1="160.79999999999998" y1="254.4" x2="230.8" y2="254.4" stroke="#111111" stroke-width="0.9"/>
<line x1="159.89999999999998" y1="254.4" x2="161.2" y2="254.4" stroke="#111111" stroke-width="0.9"/>
<text x="158.4" y="256.704" font-size="6.4" text-anchor="end" font-weight="bold" fill="#111111" stroke="#111111">0</text>
<line x1="159.89999999999998" y1="242.8" x2="161.2" y2="242.8" stroke="#111111" stroke-width="0.9"/>
<text x="158.4" y="245.104" font-size="6.4" text-anchor="end" font-weight="bold" fill="#111111" stroke="#111111">1</text>
<line x1="159.89999999999998" y1="231.20000000000002" x2="161.2" y2="231.20000000000002" stroke="#111111" stroke-width="0.9"/>
<text x="158.4" y="233.50400000000002" font-size="6.4" text-anchor="end" font-weight="bold" fill="#111111" stroke="#111111">2</text>
<line x1="159.89999999999998" y1="219.60000000000002" x2="161.2" y2="219.60000000000002" stroke="#111111" stroke-width="0.9"/>
<text x="158.4" y="221.90400000000002" font-size="6.4" text-anchor="end" font-weight="bold" fill="#111111" stroke="#111111">3</text>
<line x1="159.89999999999998" y1="208.0" x2="161.2" y2="208.0" stroke="#111111" stroke-width="0.9"/>
<text x="158.4" y="210.304" font-size="6.4" text-anchor="end" font-weight="bold" fill="#111111" stroke="#111111">4</text>
<line x1="178.2" y1="254.4" x2="178.2" y2="256.1" stroke="#111111" stroke-width="0.9"/>
<line x1="213.1" y1="254.4" x2="213.1" y2="256.1" stroke="#111111" stroke-width="0.9"/>
<text x="176.2" y="263.8" font-size="7.5" text-anchor="middle" font-weight="normal" fill="#111111" stroke="#111111">CD4</text>
<text x="220.2" y="263.9" font-size="7.7" text-anchor="middle" font-weight="normal" fill="#111111" stroke="#111111">CD4+Vα2+</text>
<text x="150.3" y="227.5" font-size="7.5" text-anchor="middle" fill="#111111" stroke="#111111" transform="rotate(-90 150.3 227.5)">cells (x 10<tspan font-size="5" dy="-2.4">3</tspan><tspan dy="2.4">)</tspan></text>
<text x="267.1" y="188.1" font-size="13.5" text-anchor="start" font-weight="bold" fill="#000" stroke="#000" style="stroke-width:0">E</text>
<line x1="311.0" y1="219.3" x2="311.0" y2="226.6" stroke="#111111" stroke-width="0.9"/>
<line x1="306.4" y1="219.3" x2="315.6" y2="219.3" stroke="#111111" stroke-width="0.9"/>
<rect x="302.65" y="226.6" width="16.70" height="28.40" fill="#000" stroke="#000" stroke-width="0.9"/>
<line x1="346.1" y1="238.2" x2="346.1" y2="242.3" stroke="#111111" stroke-width="0.9"/>
<line x1="341.5" y1="238.2" x2="350.70000000000005" y2="238.2" stroke="#111111" stroke-width="0.9"/>
<rect x="337.84999999999997" y="242.3" width="16.50" height="12.70" fill="#fff" stroke="#000" stroke-width="0.9"/>
<line x1="293.4" y1="208.0" x2="293.4" y2="255.4" stroke="#111111" stroke-width="0.9"/>
<line x1="293.0" y1="255.0" x2="362.7" y2="255.0" stroke="#111111" stroke-width="0.9"/>
<line x1="290.79999999999995" y1="255.0" x2="293.4" y2="255.0" stroke="#111111" stroke-width="0.9"/>
<text x="285.6" y="257.088" font-size="5.8" text-anchor="middle" font-weight="normal" fill="#111111" stroke="#111111" style="stroke-width:0.12px">0</text>
<line x1="290.79999999999995" y1="243.35" x2="293.4" y2="243.35" stroke="#111111" stroke-width="0.9"/>
<text x="289.0" y="245.438" font-size="5.8" text-anchor="end" font-weight="normal" fill="#111111" stroke="#111111" style="stroke-width:0.12px">10</text>
<line x1="290.79999999999995" y1="231.7" x2="293.4" y2="231.7" stroke="#111111" stroke-width="0.9"/>
<text x="289.0" y="233.78799999999998" font-size="5.8" text-anchor="end" font-weight="normal" fill="#111111" stroke="#111111" style="stroke-width:0.12px">20</text>
<line x1="290.79999999999995" y1="220.05" x2="293.4" y2="220.05" stroke="#111111" stroke-width="0.9"/>
<text x="289.0" y="222.138" font-size="5.8" text-anchor="end" font-weight="normal" fill="#111111" stroke="#111111" style="stroke-width:0.12px">30</text>
<line x1="290.79999999999995" y1="208.4" x2="293.4" y2="208.4" stroke="#111111" stroke-width="0.9"/>
<text x="289.0" y="210.488" font-size="5.8" text-anchor="end" font-weight="normal" fill="#111111" stroke="#111111" style="stroke-width:0.12px">40</text>
<line x1="310.8" y1="255.0" x2="310.8" y2="257.6" stroke="#111111" stroke-width="0.9"/>
<line x1="346.1" y1="255.0" x2="346.1" y2="257.6" stroke="#111111" stroke-width="0.9"/>
<text x="274.7" y="229.2" font-size="7.4" text-anchor="middle" font-weight="normal" fill="#111111" stroke="#111111" transform="rotate(-90 274.7 229.2)">Eosinophils (%)</text>
<rect x="378.3" y="219.4" width="7.5" height="3.3" fill="#000"/>
<rect x="378.75" y="229.95" width="7.4" height="2.7" fill="#fff" stroke="#000" stroke-width="0.9"/>
<text x="391.0" y="223.0" font-size="7.5" text-anchor="start" font-weight="normal" fill="#111111" stroke="#111111">sm2</text>
<line x1="409.8" y1="220.7" x2="419.1" y2="220.7" stroke="#111111" stroke-width="0.9"/>
<polygon points="422.1,220.7 418.1,219.2 418.1,222.2" fill="#111111"/>
<text x="426.2" y="223.0" font-size="7.5" text-anchor="start" font-weight="normal" fill="#111111" stroke="#111111">B6</text>
<text x="391.0" y="232.7" font-size="7.5" text-anchor="start" font-weight="normal" fill="#111111" stroke="#111111">IL-21R-/- sm2</text>
<line x1="440.6" y1="230.39999999999998" x2="449.8" y2="230.39999999999998" stroke="#111111" stroke-width="0.9"/>
<polygon points="452.8,230.39999999999998 448.8,228.89999999999998 448.8,231.89999999999998" fill="#111111"/>
<text x="458.6" y="232.7" font-size="7.5" text-anchor="start" font-weight="normal" fill="#111111" stroke="#111111">B6</text>
</svg>
</body></html>
